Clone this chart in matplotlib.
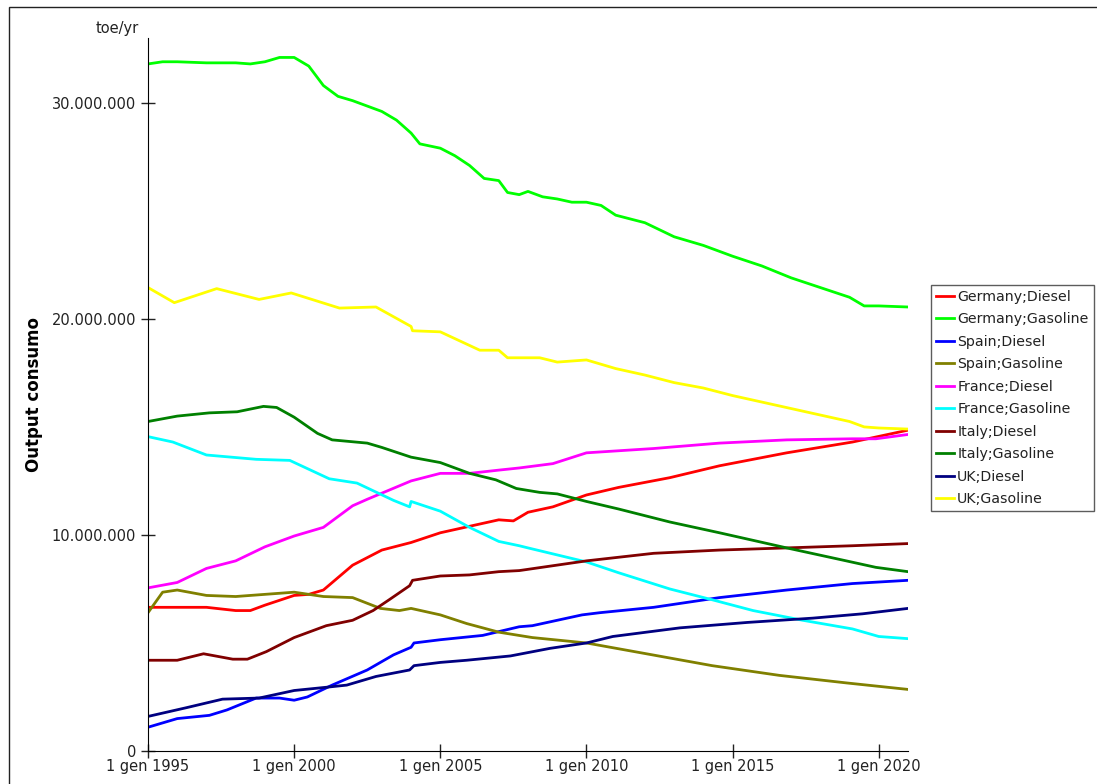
import matplotlib
matplotlib.use('Agg')
import matplotlib.pyplot as plt
from matplotlib.patches import Rectangle
from matplotlib.ticker import FuncFormatter

# values in millions of toe/yr, x as decimal years
de_gas_x = [1995, 1995.5, 1996, 1997, 1998, 1998.5, 1999, 1999.5, 2000, 2000.5, 2001, 2001.5, 2002, 2003, 2003.5, 2004, 2004.3,
            2005, 2005.5, 2006, 2006.5, 2007, 2007.3, 2007.7, 2008, 2008.5, 2009, 2009.5, 2010, 2010.5, 2011, 2012, 2013,
            2014, 2015, 2016, 2017, 2018, 2019, 2019.5, 2020, 2021]
de_gas_y = [31.8, 31.9, 31.9, 31.85, 31.85, 31.8, 31.9, 32.1, 32.1, 31.7, 30.8, 30.3, 30.1, 29.6, 29.2, 28.6, 28.1,
            27.9, 27.55, 27.1, 26.5, 26.4, 25.85, 25.75, 25.9, 25.65, 25.55, 25.4, 25.4, 25.25, 24.8, 24.45, 23.8,
            23.4, 22.9, 22.45, 21.9, 21.45, 21.0, 20.6, 20.6, 20.55]

uk_gas_x = [1995, 1995.9, 1997.35, 1998.8, 1999.9, 2001.55, 2002.8, 2004.0, 2004.05, 2005, 2006.35, 2007, 2007.3, 2008.4,
            2009, 2010, 2011, 2012, 2013, 2014, 2015, 2016, 2017, 2018, 2019, 2019.5, 2020, 2021]
uk_gas_y = [21.45, 20.75, 21.4, 20.9, 21.2, 20.5, 20.55, 19.65, 19.45, 19.4, 18.55, 18.55, 18.2, 18.2,
            18.0, 18.1, 17.7, 17.4, 17.05, 16.8, 16.45, 16.15, 15.85, 15.55, 15.25, 15.0, 14.95, 14.9]

it_gas_x = [1995, 1996, 1997.1, 1998.05, 1998.95, 1999.4, 2000, 2000.8, 2001.3, 2002.5, 2003, 2004, 2005, 2006, 2006.9,
            2007.6, 2008.4, 2009, 2010, 2011.1, 2012.85, 2014.55, 2016.85, 2018.55, 2019.9, 2021]
it_gas_y = [15.25, 15.5, 15.65, 15.7, 15.95, 15.9, 15.45, 14.7, 14.4, 14.25, 14.05, 13.6, 13.35, 12.85, 12.55,
            12.15, 11.97, 11.9, 11.55, 11.2, 10.6, 10.1, 9.4, 8.9, 8.5, 8.3]

fr_gas_x = [1995, 1995.85, 1997, 1998.7, 1999.85, 2001.2, 2002.15, 2003.4, 2003.95, 2004.0, 2005, 2006, 2007, 2007.7,
            2008, 2010, 2011.1, 2012.85, 2014.3, 2015.7, 2017.4, 2019.1, 2020, 2021]
fr_gas_y = [14.55, 14.3, 13.7, 13.5, 13.45, 12.6, 12.4, 11.6, 11.3, 11.55, 11.1, 10.35, 9.7, 9.5,
            9.4, 8.75, 8.25, 7.5, 7.0, 6.5, 6.05, 5.65, 5.3, 5.2]

fr_die_x = [1995, 1996, 1997, 1998, 1999, 2000, 2001, 2002, 2002.5, 2004, 2005, 2006, 2007, 2007.7, 2008.85, 2010,
            2012.3, 2014.55, 2016.85, 2019.1, 2019.9, 2021]
fr_die_y = [7.55, 7.8, 8.45, 8.8, 9.45, 9.95, 10.35, 11.35, 11.65, 12.5, 12.85, 12.85, 13.0, 13.1, 13.3, 13.8,
            14.0, 14.25, 14.4, 14.45, 14.45, 14.65]

de_die_x = [1995, 1996, 1997, 1998, 1998.5, 1999, 2000, 2000.5, 2001, 2002, 2003, 2004, 2005, 2006, 2007, 2007.5,
            2008, 2008.85, 2010, 2011.1, 2012.85, 2014.55, 2016.85, 2019.1, 2021]
de_die_y = [6.65, 6.65, 6.65, 6.5, 6.5, 6.75, 7.2, 7.25, 7.45, 8.6, 9.3, 9.65, 10.1, 10.4, 10.7, 10.65,
            11.05, 11.3, 11.85, 12.2, 12.65, 13.2, 13.8, 14.3, 14.85]

it_die_x = [1995, 1996, 1996.9, 1997.9, 1998.4, 1999.05, 2000, 2001.1, 2002, 2002.7, 2003.25, 2003.95, 2004.05, 2005,
            2006, 2007, 2007.7, 2010, 2012.3, 2014.55, 2016.85, 2019.1, 2021]
it_die_y = [4.2, 4.2, 4.5, 4.25, 4.25, 4.6, 5.25, 5.8, 6.05, 6.5, 7.0, 7.65, 7.9, 8.1,
            8.15, 8.3, 8.35, 8.8, 9.15, 9.3, 9.4, 9.5, 9.6]

es_gas_x = [1995, 1995.5, 1996, 1997, 1998, 1999, 2000, 2001, 2002, 2002.95, 2003.6, 2004, 2005, 2005.9, 2007,
            2008.15, 2010, 2012.05, 2014.3, 2016.6, 2018.9, 2021]
es_gas_y = [6.4, 7.35, 7.45, 7.2, 7.15, 7.25, 7.35, 7.15, 7.1, 6.6, 6.5, 6.6, 6.3, 5.9, 5.5,
            5.25, 5.0, 4.5, 3.95, 3.5, 3.15, 2.85]

es_die_x = [1995, 1996, 1997.1, 1997.7, 1998.7, 1999.5, 2000, 2000.45, 2001.3, 2002.5, 2003.4, 2004, 2004.1, 2005,
            2006.45, 2007.7, 2008.15, 2009.85, 2010.45, 2012.3, 2014.55, 2016.85, 2019.1, 2021]
es_die_y = [1.1, 1.5, 1.65, 1.9, 2.45, 2.45, 2.35, 2.5, 3.05, 3.75, 4.45, 4.8, 5.0, 5.15,
            5.35, 5.75, 5.8, 6.3, 6.4, 6.65, 7.1, 7.45, 7.75, 7.9]

uk_die_x = [1995, 1996.3, 1997.55, 1998.8, 2000, 2001.1, 2001.8, 2002.8, 2003.95, 2004.1, 2005, 2005.9, 2007.4,
            2008.75, 2010, 2010.9, 2013.2, 2015.5, 2017.75, 2019.45, 2021]
uk_die_y = [1.6, 2.0, 2.4, 2.45, 2.8, 2.95, 3.05, 3.45, 3.75, 3.95, 4.1, 4.2, 4.4,
            4.75, 5.0, 5.3, 5.7, 5.95, 6.15, 6.35, 6.6]

series = [
    ('Germany;Diesel', de_die_x, de_die_y, '#ff0000'),
    ('Germany;Gasoline', de_gas_x, de_gas_y, '#00ff00'),
    ('Spain;Diesel', es_die_x, es_die_y, '#0000ff'),
    ('Spain;Gasoline', es_gas_x, es_gas_y, '#808000'),
    ('France;Diesel', fr_die_x, fr_die_y, '#ff00ff'),
    ('France;Gasoline', fr_gas_x, fr_gas_y, '#00ffff'),
    ('Italy;Diesel', it_die_x, it_die_y, '#800000'),
    ('Italy;Gasoline', it_gas_x, it_gas_y, '#008000'),
    ('UK;Diesel', uk_die_x, uk_die_y, '#000080'),
    ('UK;Gasoline', uk_gas_x, uk_gas_y, '#ffff00'),
]

tick_years = [1995, 2000, 2005, 2010, 2015, 2020]
tick_labels = ['1 gen %d' % y for y in tick_years]

plt.rcParams['font.family'] = ['DejaVu Sans']

fig = plt.figure(figsize=(10.97, 7.84), dpi=100)
ax = fig.add_axes([148/1097, 33/784, (908-148)/1097, (751-38)/784])

for name, xs, ys, col in series:
    ax.plot(xs, [v*1e6 for v in ys], color=col, lw=2.0, label=name)

ax.set_xlim(1995, 2021)
ax.set_ylim(0, 33e6)
ax.set_xticks(tick_years)
ax.set_xticklabels(tick_labels)
ax.set_yticks([0, 10e6, 20e6, 30e6])
ax.yaxis.set_major_formatter(FuncFormatter(lambda v, p: '{:,.0f}'.format(v).replace(',', '.')))
ax.tick_params(direction='inout', length=10, width=1, labelsize=10.5, colors='#222222')
ax.tick_params(axis='x', pad=1)
for s in ['top', 'right']:
    ax.spines[s].set_visible(False)

ax.set_ylabel('Output consumo', fontsize=12, fontweight='bold', labelpad=6)
fig.text(117/1097, 1 - 28/784, 'toe/yr', fontsize=10.5, ha='center', va='center', color='#222222')

leg = fig.legend(loc='upper left', bbox_to_anchor=(931/1097, 1 - 285/784), fontsize=10.2,
                 frameon=True, fancybox=False, edgecolor='#333333', handlelength=1.3,
                 handletextpad=0.2, labelspacing=0.6, borderpad=0.35, borderaxespad=0)
leg.get_frame().set_linewidth(1)
for t in leg.get_texts():
    t.set_color('#222222')

fig.add_artist(Rectangle((9/1097, -0.01), 1.0, (784-7)/784 + 0.01, transform=fig.transFigure,
                         fill=False, lw=1, edgecolor='#222222'))

fig.savefig('out.png', dpi=100)
